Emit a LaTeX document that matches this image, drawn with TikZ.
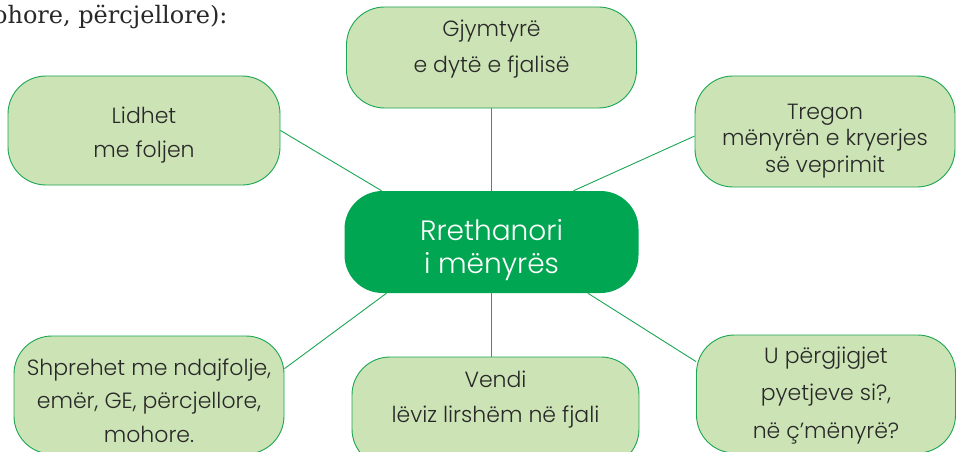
\documentclass[tikz,border=0pt]{standalone}
\usepackage{fontspec}
\newfontfamily\mapfont{Poppins Light}
\newfontfamily\introfont{DejaVu Serif}
\definecolor{leafgreen}{RGB}{204,227,181}
\definecolor{rimgreen}{RGB}{26,166,82}
\definecolor{hubgreen}{RGB}{0,166,81}
\definecolor{inkgray}{RGB}{40,40,40}
\begin{document}
\begin{tikzpicture}[
    x=1pt, y=-1pt,
    every node/.style={align=center},
    leaf/.style={draw=rimgreen, fill=leafgreen, line width=0.9pt, rounded corners=38pt,
        text=inkgray, inner sep=0pt, text depth=6pt, font=\mapfont\fontsize{22}{34}\selectfont},
    hub/.style={fill=hubgreen, rounded corners=38pt, text=white, inner sep=0pt,
        text depth=6pt, font=\mapfont\fontsize{28}{33}\selectfont},
    link/.style={draw=rimgreen, line width=0.9pt}
]
\useasboundingbox (0,0) rectangle (956,452);
\clip (0,0) rectangle (956,452);

\node[anchor=base east, text=inkgray, font=\introfont\fontsize{24}{28}\selectfont] (intro) at (231,24) {(mohore, përcjellore):};

\node[hub, minimum width=294pt, minimum height=102pt, text height=68pt] (c) at (491.5,242) {Rrethanori\\i mënyrës};

\node[leaf, minimum width=290pt, minimum height=101pt, text height=37pt,
    font=\mapfont\fontsize{22}{36}\selectfont] (tp) at (491.5,57.5) {Gjymtyrë\\e dytë e fjalisë};
\node[leaf, minimum width=272pt, minimum height=109pt, text height=59pt] (lt) at (144,130.5) {Lidhet\\me foljen};
\node[leaf, minimum width=260pt, minimum height=111pt, text height=87pt,
    font=\mapfont\fontsize{22}{26.5}\selectfont] (tr) at (825,131.5) {Tregon\\mënyrën e kryerjes\\së veprimit};
\node[leaf, minimum width=270pt, minimum height=118pt, text height=100pt,
    font=\mapfont\fontsize{22}{33.5}\selectfont] (bl) at (149,395) {Shprehet me ndajfolje,\\emër, GE, përcjellore,\\mohore.};
\node[leaf, minimum width=287pt, minimum height=110pt, text height=26pt,
    font=\mapfont\fontsize{22}{35}\selectfont] (bm) at (495.5,412) {Vendi\\lëviz lirshëm në fjali};
\node[leaf, minimum width=259pt, minimum height=118pt, text height=94pt,
    font=\mapfont\fontsize{22}{37.5}\selectfont] (br) at (826,394) {U përgjigjet\\pyetjeve si?,\\në ç’mënyrë?};

\draw[link] (tp.south) -- (c.north);
\draw[link] (lt.east) -- (c.155);
\draw[link] (tr.182) -- (c.32);
\draw[link] (bl.11) -- (c.206);
\draw[link] (c.south) -- (c.south |- bm.north);
\draw[link] (br.166) -- (c.-28);
\end{tikzpicture}
\end{document}
